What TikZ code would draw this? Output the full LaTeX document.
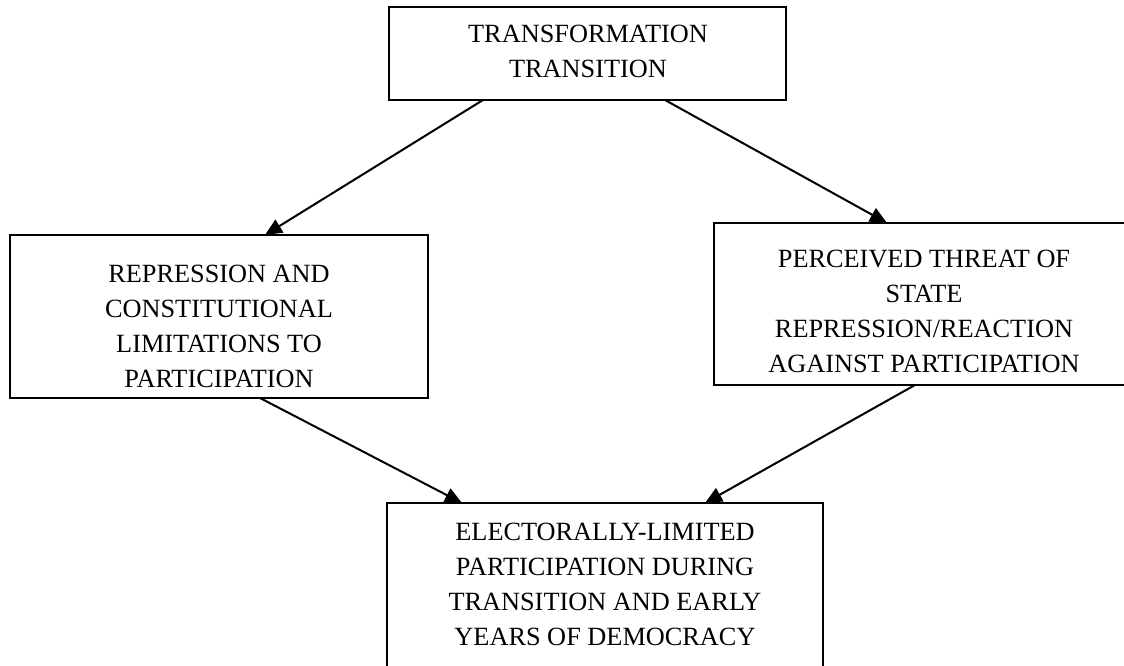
\documentclass[tikz,border=0pt]{standalone}
\usepackage{fontspec}
\setmainfont{Liberation Serif}
\usetikzlibrary{arrows.meta,calc}
\tikzset{
  boxnode/.style={draw=black, line width=2pt, inner sep=0pt, outer sep=0pt, anchor=north west},
  txt/.style={font=\fontsize{26.3}{35}\selectfont, align=center, inner sep=0pt, anchor=north},
  arr/.style={line width=2pt, -{Triangle[length=17pt,width=15pt]}}
}
\begin{document}
\begin{tikzpicture}[x=1pt,y=-1pt]
\path[use as bounding box, clip] (0,0) rectangle (1124,666);
\fill[white] (0,0) rectangle (1124,666);
% boxes
\node[boxnode, minimum width=397pt, minimum height=93pt] (top) at (389,7) {};
\node[boxnode, minimum width=418pt, minimum height=163pt] (left) at (10,235) {};
\node[boxnode, minimum width=420pt, minimum height=162pt] (right) at (714,223) {};
\node[boxnode, minimum width=436pt, minimum height=190pt] (bottom) at (387,503) {};
% texts
\node[txt] (toptext) at (588,25) {TRANSFORMATION\\TRANSITION};
\node[txt] (lefttext) at (219,265) {REPRESSION AND\\CONSTITUTIONAL\\LIMITATIONS TO\\PARTICIPATION};
\node[txt] (righttext) at (924,250) {PERCEIVED THREAT OF\\STATE\\REPRESSION/REACTION\\AGAINST PARTICIPATION};
\node[txt] (bottomtext) at (605,523) {ELECTORALLY-LIMITED\\PARTICIPATION DURING\\TRANSITION AND EARLY\\YEARS OF DEMOCRACY};
% connectors
\draw[arr] ([xshift=94pt]top.south west) -- ([xshift=255pt]left.north west);
\draw[arr] ([xshift=276pt]top.south west) -- ([xshift=173pt]right.north west);
\draw[arr] ([xshift=250pt]left.south west) -- ([xshift=75pt]bottom.north west);
\draw[arr] ([xshift=201pt]right.south west) -- ([xshift=318pt]bottom.north west);
\end{tikzpicture}
\end{document}
